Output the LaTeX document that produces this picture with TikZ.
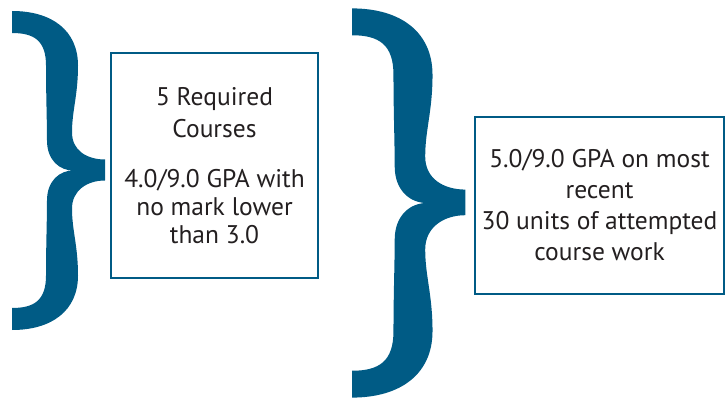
\documentclass[tikz,border=0pt]{standalone}
\usepackage{fontspec}
\setmainfont{PT Sans}
\definecolor{bracecol}{RGB}{0,91,133}
\definecolor{txtcol}{RGB}{35,31,32}
\tikzset{
  critbox/.style={draw=bracecol, line width=2pt, align=center, text=txtcol,
    inner sep=0pt, outer sep=0pt, font=\fontsize{25.5}{28}\selectfont},
}
\newcommand{\curlybrace}[2]{%
  \begin{scope}[shift={#1}, scale=#2]
    \fill[bracecol] (0,-159.5) .. controls (40,-159.5) and (66,-140) .. (66,-105)
      .. controls (66,-75) and (60,-60) .. (60,-38)
      .. controls (60,-20) and (75,-11) .. (93,-11) -- (93,10)
      .. controls (75,10) and (60,20) .. (60,38)
      .. controls (60,60) and (66,75) .. (66,105)
      .. controls (66,140) and (40,159.5) .. (0,159.5) -- (0,137.5)
      .. controls (22,137.5) and (34,130) .. (34,105)
      .. controls (34,75) and (35,50) .. (35,30)
      .. controls (35,10) and (48,0) .. (61,0)
      .. controls (48,0) and (35,-10) .. (35,-30)
      .. controls (35,-50) and (34,-75) .. (34,-105)
      .. controls (34,-130) and (22,-137.5) .. (0,-137.5) -- cycle;
  \end{scope}}
\begin{document}
\begin{tikzpicture}[x=1pt, y=-1pt]
  \useasboundingbox (0,0) rectangle (725,398);

  \curlybrace{(12,170.5)}{1}
  \curlybrace{(352,203)}{1.22}

  \node[critbox, minimum width=207pt, minimum height=225pt] (required) at (214.5,165.5)
    {5 Required\\[4pt]Courses\\[22pt]4.0/9.0 GPA with\\no mark lower\\than 3.0};

  \node[critbox, minimum width=249pt, minimum height=177pt,
    font=\fontsize{25.5}{31}\selectfont] (recent) at (599.5,205.5)
    {5.0/9.0 GPA on most\\recent\\30 units of attempted\\course work};
\end{tikzpicture}
\end{document}
